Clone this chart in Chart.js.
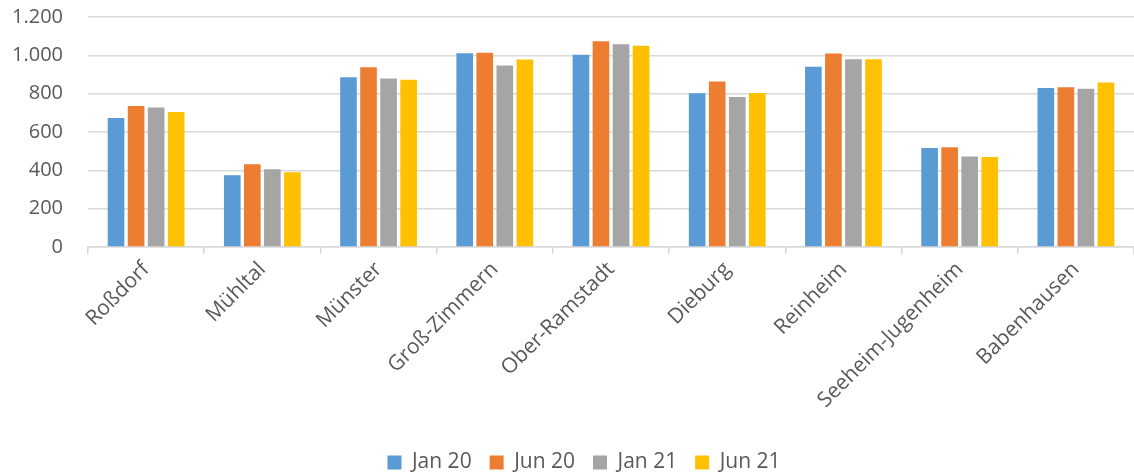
<!DOCTYPE html>
<html><head><meta charset="utf-8">
<script src="https://cdn.jsdelivr.net/npm/chart.js@4"></script>
<style>html,body{margin:0;padding:0;background:#fff}#wrap{width:1134px;height:472px}</style>
</head><body><div id="wrap"><canvas id="c"></canvas></div>
<script>
const categories = ["Roßdorf","Mühltal","Münster","Groß-Zimmern","Ober-Ramstadt","Dieburg","Reinheim","Seeheim-Jugenheim","Babenhausen"];
const seriesNames = ["Jan 20","Jun 20","Jan 21","Jun 21"];
const jan20 = [673,374,886,1011,1003,802,940,517,830];
const jun20 = [736,432,938,1013,1074,863,1010,521,833];
const jan21 = [728,406,879,947,1058,783,980,472,826];
const jun21 = [704,390,873,978,1050,804,980,470,858];
const colors = ["#5B9BD5","#ED7D31","#A5A5A5","#FFC000"];
const yMax = 1200, yStep = 200;

const values = [jan20, jun20, jan21, jun21];
const font = "'Open Sans', sans-serif";
const legendShift = {
  id: 'legendShift',
  afterLayout(chart) {
    const l = chart.legend;
    if (!l) return;
    l.left += 17; l.right += 17;
    l.top += 11; l.bottom += 11;
  }
};
new Chart(document.getElementById('c'), {
  type: 'bar',
  plugins: [legendShift],
  data: {
    labels: categories,
    datasets: values.map((v, i) => ({
      label: seriesNames[i], data: v, backgroundColor: colors[i],
      barPercentage: 0.83, categoryPercentage: 0.69
    }))
  },
  options: {
    responsive: true, maintainAspectRatio: false, animation: false,
    layout: { padding: { top: 17, right: 0, bottom: 0, left: 0 } },
    plugins: {
      tooltip: { enabled: false },
      legend: {
        position: 'bottom',
        labels: { color: '#595959', font: { family: font, size: 21 }, boxWidth: 14, boxHeight: 14, padding: 18 }
      }
    },
    scales: {
      x: {
        grid: { offset: true, drawOnChartArea: false, drawTicks: true, tickLength: 7, color: '#d9d9d9', lineWidth: 1.5 },
        border: { color: '#d9d9d9', width: 1.5 },
        ticks: { color: '#595959', font: { family: font, size: 21 }, autoSkip: false, maxRotation: 45, minRotation: 45, padding: 3 },
        afterFit: s => { s.height = 176; }
      },
      y: {
        min: 0, max: yMax,
        grid: { color: '#d9d9d9', lineWidth: 1.5, drawTicks: true, tickLength: 22, tickColor: 'rgba(0,0,0,0)' },
        border: { display: false },
        ticks: { stepSize: yStep, color: '#595959', font: { family: font, size: 20 }, padding: 3,
          callback: v => String(v).replace(/\B(?=(\d{3})+(?!\d))/g, '.') },
        afterFit: s => { s.width = 88; }
      }
    }
  }
});
</script></body></html>
